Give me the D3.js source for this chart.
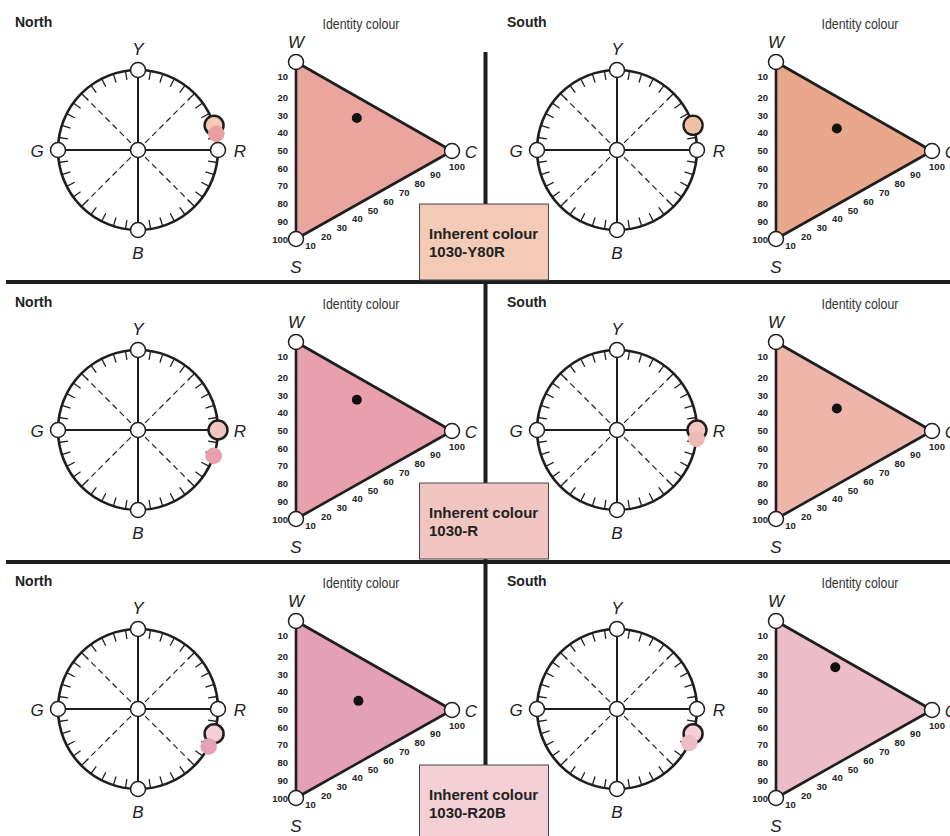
<!DOCTYPE html>
<html><head><meta charset="utf-8">
<script src="https://cdn.jsdelivr.net/npm/d3@7"></script>
<style>body{margin:0;background:#fff} svg{display:block}</style>
</head><body><svg id="c" width="950" height="836"></svg>
<script>
// ---- data ----
const sides = ["North", "South"];
const inherentCodes = ["1030-Y80R", "1030-R", "1030-R20B"];
const inherentHue = [80, 100, 120];           // NCS hue on a 0-400 circle (Y=0, R=100, B=200, G=300)
const inherentFill = ["#f2cab6", "#f2c6c0", "#f4d0d6"];
const identityHueNorth = [87, 121, 131];
const identityHueSouth = [80, 107, 128];
const identityBlackNorth = [12, 13, 25];
const identityChromaNorth = [39, 39, 40];
const identityBlackSouth = [18, 18, 7];
const identityChromaSouth = [39, 39, 38];
const identityFillNorth = ["#eaa59e", "#e8a0ae", "#e4a0b6"];
const identityFillSouth = ["#e9a78c", "#eeb5aa", "#ecbcc8"];
const identityDotNorth = ["#eba0a0", "#e8a0b0", "#e4a0b4"];
const identityDotSouth = ["#f0c0a6", "#efbab4", "#efbcc6"];
const hueLabels = ["Y", "R", "B", "G"];
const hueLabelHue = [0, 100, 200, 300];
const scaleTicks = [10, 20, 30, 40, 50, 60, 70, 80, 90, 100];

// ---- layout ----
const svg = d3.select("#c");
const FONT = "'Liberation Sans', Arial, Helvetica, sans-serif";
const rowY = [0, 280, 559];
const R = 80;
const hueAngle = d3.scaleLinear().domain([0, 400]).range([0, 2 * Math.PI]);
const pctScale = d3.scaleLinear().domain([0, 100]).range([0, 1]);
const dark = "#1e1e1e";

function polar(cx, cy, r, hue) {
  const a = hueAngle(hue);
  return [cx + r * Math.sin(a), cy - r * Math.cos(a)];
}

// separators
svg.append("line").attr("x1", 6).attr("x2", 950).attr("y1", 282).attr("y2", 282)
  .attr("stroke", dark).attr("stroke-width", 4);
svg.append("line").attr("x1", 6).attr("x2", 950).attr("y1", 562).attr("y2", 562)
  .attr("stroke", dark).attr("stroke-width", 4);
[[52, 282], [282, 562], [562, 836]].forEach(([a, b]) => {
  svg.append("line").attr("x1", 485.5).attr("x2", 485.5).attr("y1", a).attr("y2", b)
    .attr("stroke", dark).attr("stroke-width", 4);
});

function hueCircle(g, cx, cy, inhHue, inhFill, idHue, idFill) {
  // dashed diagonals
  [50, 150, 250, 350].forEach(h => {
    const [x, y] = polar(cx, cy, R - 7, h);
    g.append("line").attr("x1", cx).attr("y1", cy).attr("x2", x).attr("y2", y)
      .attr("stroke", dark).attr("stroke-width", 1.2).attr("stroke-dasharray", "6,4");
  });
  // solid cross
  [[0, 200], [100, 300]].forEach(([h1, h2]) => {
    const p1 = polar(cx, cy, R, h1), p2 = polar(cx, cy, R, h2);
    g.append("line").attr("x1", p1[0]).attr("y1", p1[1]).attr("x2", p2[0]).attr("y2", p2[1])
      .attr("stroke", dark).attr("stroke-width", 2);
  });
  // ticks
  d3.range(0, 400, 10).filter(h => h % 100 !== 0).forEach(h => {
    const p1 = polar(cx, cy, R, h), p2 = polar(cx, cy, R - 9, h);
    g.append("line").attr("x1", p1[0]).attr("y1", p1[1]).attr("x2", p2[0]).attr("y2", p2[1])
      .attr("stroke", dark).attr("stroke-width", 1.3);
  });
  g.append("circle").attr("cx", cx).attr("cy", cy).attr("r", R)
    .attr("fill", "none").attr("stroke", dark).attr("stroke-width", 2.6);
  // white nodes
  hueLabelHue.forEach(h => {
    const [x, y] = polar(cx, cy, R, h);
    g.append("circle").attr("cx", x).attr("cy", y).attr("r", 7.5)
      .attr("fill", "#fff").attr("stroke", dark).attr("stroke-width", 1.5);
  });
  g.append("circle").attr("cx", cx).attr("cy", cy).attr("r", 7.5)
    .attr("fill", "#fff").attr("stroke", dark).attr("stroke-width", 1.5);
  // labels
  hueLabels.forEach((t, i) => {
    const [x, y] = polar(cx, cy, R + 22, hueLabelHue[i]);
    g.append("text").attr("x", x + (t === "G" ? 1 : 0)).attr("y", y + 1).text(t)
      .attr("text-anchor", "middle").attr("dominant-baseline", "central")
      .attr("font-family", FONT).attr("font-style", "italic").attr("font-size", 17).attr("fill", "#222");
  });
  // inherent colour marker
  const [ix, iy] = polar(cx, cy, R, inhHue);
  g.append("circle").attr("cx", ix).attr("cy", iy).attr("r", 9.5)
    .attr("fill", inhFill).attr("stroke", dark).attr("stroke-width", 2.5);
  // identity colour dot
  const [dx, dy] = polar(cx, cy, R, idHue);
  g.append("circle").attr("cx", dx).attr("cy", dy).attr("r", 8.3).attr("fill", idFill);
}

function triangle(g, wx, wy, fill, black, chroma, titleX) {
  const W = [wx, wy], S = [wx, wy + 177], C = [wx + 156, wy + 89];
  g.append("text").attr("x", titleX).attr("y", wy - 33).text("Identity colour")
    .attr("text-anchor", "middle").attr("font-family", "'Liberation Sans Narrow', 'Arial Narrow', " + FONT)
    .attr("font-size", 14).attr("fill", "#333")
    .attr("textLength", 77).attr("lengthAdjust", "spacingAndGlyphs");
  g.append("path").attr("d", d3.line()([W, C, S]) + "Z")
    .attr("fill", fill).attr("stroke", dark).attr("stroke-width", 2.6).attr("stroke-linejoin", "round");
  // left scale (W -> S)
  scaleTicks.forEach(v => {
    const t = pctScale(v);
    g.append("text").attr("x", wx - 8).attr("y", W[1] + t * (S[1] - W[1]) + (v === 10 ? -3 : 0))
      .text(v).attr("text-anchor", "end").attr("dominant-baseline", "central")
      .attr("font-family", FONT).attr("font-weight", "bold").attr("font-size", 9.5).attr("fill", "#222");
  });
  // bottom scale (S -> C)
  scaleTicks.forEach(v => {
    const t = pctScale(v);
    const x = S[0] + t * (C[0] - S[0]), y = S[1] + t * (C[1] - S[1]);
    g.append("text").attr("x", x + (v === 100 ? 5 : -1)).attr("y", y + 15)
      .text(v).attr("text-anchor", "middle").attr("dominant-baseline", "central")
      .attr("font-family", FONT).attr("font-weight", "bold").attr("font-size", 9.5).attr("fill", "#222");
  });
  [W, C, S].forEach(p => {
    g.append("circle").attr("cx", p[0]).attr("cy", p[1]).attr("r", 7.5)
      .attr("fill", "#fff").attr("stroke", dark).attr("stroke-width", 1.5);
  });
  [["W", W[0], W[1] - 21], ["C", C[0] + 19, C[1]], ["S", S[0], S[1] + 27]].forEach(([t, x, y]) => {
    g.append("text").attr("x", x).attr("y", y + 1).text(t)
      .attr("text-anchor", "middle").attr("dominant-baseline", "central")
      .attr("font-family", FONT).attr("font-style", "italic").attr("font-size", 17).attr("fill", "#222");
  });
  // identity point
  const s = pctScale(black), c = pctScale(chroma);
  const px = W[0] + s * (S[0] - W[0]) + c * (C[0] - W[0]);
  const py = W[1] + s * (S[1] - W[1]) + c * (C[1] - W[1]);
  g.append("circle").attr("cx", px).attr("cy", py).attr("r", 5).attr("fill", "#111");
}

inherentCodes.forEach((code, i) => {
  const oy = rowY[i];
  const g = svg.append("g");
  sides.forEach((side, j) => {
    const ox = j === 0 ? 0 : 479;
    g.append("text").attr("x", j === 0 ? 15 : 507).attr("y", oy + 27).text(side)
      .attr("font-family", FONT).attr("font-weight", "bold").attr("font-size", 14).attr("fill", "#222");
    hueCircle(g, 138 + ox, 150 + oy, inherentHue[i], inherentFill[i],
      j === 0 ? identityHueNorth[i] : identityHueSouth[i],
      j === 0 ? identityDotNorth[i] : identityDotSouth[i]);
    triangle(g, 296 + (j === 0 ? 0 : 480), 62 + oy,
      j === 0 ? identityFillNorth[i] : identityFillSouth[i],
      j === 0 ? identityBlackNorth[i] : identityBlackSouth[i],
      j === 0 ? identityChromaNorth[i] : identityChromaSouth[i],
      j === 0 ? 361 : 860);
  });
  // inherent box
  const boxTop = [204, 483, 765][i];
  g.append("rect").attr("x", 419.5).attr("y", boxTop).attr("width", 129).attr("height", 76)
    .attr("fill", inherentFill[i]).attr("stroke", "#444").attr("stroke-width", 1);
  g.append("text").attr("x", 429).attr("y", boxTop + 35).text("Inherent colour")
    .attr("font-family", FONT).attr("font-weight", "bold").attr("font-size", 15).attr("fill", "#222");
  g.append("text").attr("x", 429).attr("y", boxTop + 53).text(code)
    .attr("font-family", FONT).attr("font-weight", "bold").attr("font-size", 15).attr("fill", "#222");
});
</script></body></html>
